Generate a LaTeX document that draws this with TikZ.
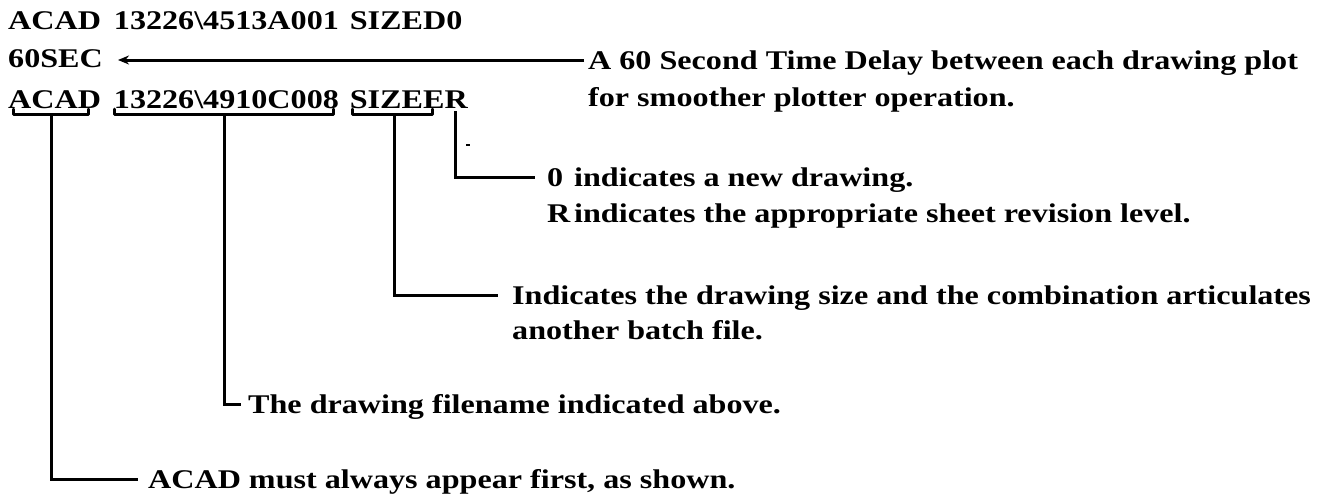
\documentclass[tikz,border=0pt]{standalone}
\usepackage{fontspec}
\setmainfont{Liberation Serif}[UprightFont={* Bold},FakeStretch=1.19]
\usetikzlibrary{arrows.meta}
\begin{document}
\begin{tikzpicture}[x=1pt,y=-1pt,
  txt/.style={anchor=base west, inner sep=0pt, text height=20pt, text depth=2pt,
              font=\fontsize{27pt}{36pt}\selectfont},
  lnk/.style={line width=3pt},
  brk/.style={line width=3pt, line join=round, line cap=round}]
\useasboundingbox (0,0) rectangle (1329,496);

% code lines
\node[txt] (l1) at (8,29) {ACAD\hspace{13pt}13226\textbackslash 4513A001\hspace{11pt}SIZED0};
\node[txt] (l2) at (8,67) {60SEC};
\node[txt] (l3) at (8,108) {ACAD\hspace{13pt}13226\textbackslash 4910C008\hspace{11pt}SIZEER};

% explanations
\node[txt] (r1a) at (588,69) {A 60 Second Time Delay between each drawing plot};
\node[txt] (r1b) at (588,106) {for smoother plotter operation.};
\node[txt] (d0) at (547,186) {\makebox[27pt][l]{0}indicates a new drawing.};
\node[txt] (dR) at (547,222) {\makebox[27pt][l]{R}indicates the appropriate sheet revision level.};
\node[txt] (ds1) at (512,304) {Indicates the drawing size and the combination articulates};
\node[txt] (ds2) at (512,339) {another batch file.};
\node[txt] (df) at (248,413) {The drawing filename indicated above.};
\node[txt] (da) at (148,488) {ACAD must always appear first, as shown.};

% underline brackets
\draw[brk] (13,109) -- (13,114) -- (88,114) -- (88,109);
\draw[brk] (114,109) -- (114,114) -- (333,114) -- (333,109);
\draw[brk] (352,109) -- (352,114) -- (432,114) -- (432,109);
\coordinate (uA) at (51,114);
\coordinate (uF) at (224,114);
\coordinate (uS) at (394,114);
\coordinate (uR) at (455,111);
\coordinate (tip) at (118,60);

% connectors
\draw[lnk,-{Stealth[length=11pt,width=9pt]}] ([xshift=-4pt]r1a.west) -- (tip);
\draw[lnk] (uA) |- ([xshift=-10pt]da.west);
\draw[lnk] (uF) |- ([xshift=-7pt]df.west);
\draw[lnk] (uS) |- ([xshift=-14pt]ds1.west);
\draw[lnk] (uR) |- ([xshift=-12pt]d0.west);

% small stray mark
\draw[line width=1.5pt] (466,145) -- (470,145);
\end{tikzpicture}
\end{document}
